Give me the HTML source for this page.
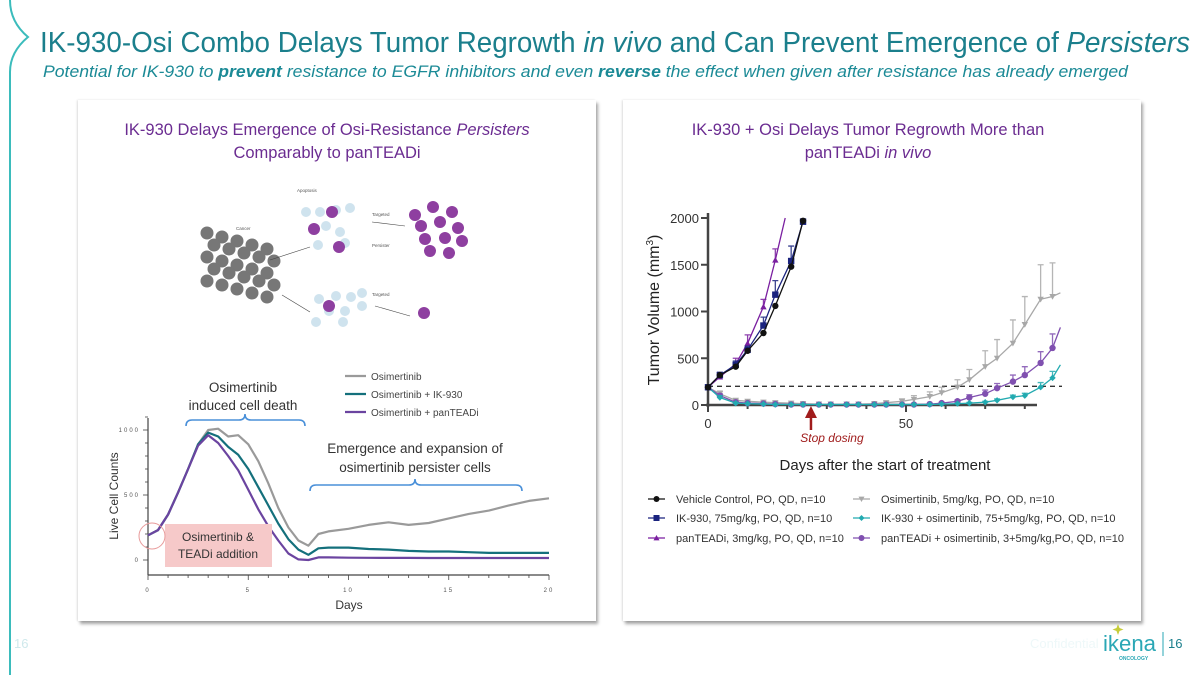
<!DOCTYPE html>
<html><head><meta charset="utf-8">
<style>
html,body{margin:0;padding:0;background:#fff;}
body{width:1200px;height:675px;overflow:hidden;position:relative;font-family:"Liberation Sans",sans-serif;}
.panel{position:absolute;background:#fff;box-shadow:2px 3px 3px rgba(0,0,0,0.35),-1px 0 2px rgba(0,0,0,0.12);}
svg{position:absolute;left:0;top:0;}
</style></head>
<body>
<div class="panel" style="left:78px;top:100px;width:518px;height:521px;"></div>
<div class="panel" style="left:623px;top:100px;width:518px;height:521px;"></div>
<svg id="main" width="1200" height="675" viewBox="0 0 1200 675">
  <path d="M10,0 Q10,22 28,37 Q10,52 10,72 L10,675" fill="none" stroke="#3bbcbc" stroke-width="2"/>
  <text x="40" y="52" font-size="29" fill="#1b7f8c" textLength="1150" lengthAdjust="spacingAndGlyphs">IK-930-Osi Combo Delays Tumor Regrowth <tspan font-style="italic">in vivo</tspan> and Can Prevent Emergence of <tspan font-style="italic">Persisters</tspan></text>
  <text x="43" y="77" font-size="17" fill="#1b8a96" font-style="italic" textLength="1085" lengthAdjust="spacingAndGlyphs">Potential for IK-930 to <tspan font-weight="bold">prevent</tspan> resistance to EGFR inhibitors and even <tspan font-weight="bold">reverse</tspan> the effect when given after resistance has already emerged</text>
  <text x="327" y="135" font-size="16.5" fill="#6b2c91" text-anchor="middle">IK-930 Delays Emergence of Osi-Resistance <tspan font-style="italic">Persisters</tspan></text>
  <text x="327" y="158" font-size="16.5" fill="#6b2c91" text-anchor="middle">Comparably to panTEADi</text>
  <text x="868" y="135" font-size="16.5" fill="#6b2c91" text-anchor="middle">IK-930 + Osi Delays Tumor Regrowth More than</text>
  <text x="868" y="158" font-size="16.5" fill="#6b2c91" text-anchor="middle">panTEADi <tspan font-style="italic">in vivo</tspan></text>
  <g id="diagram"></g>
  <g id="left"></g>
  <g id="right"></g>
  <text x="14" y="648" font-size="13" fill="#cfe9ec">16</text>
  <text x="1030" y="648" font-size="13" fill="#eef8f9">Confidential</text>
  <text x="1103" y="651" font-size="22" fill="#2aa7b5" textLength="53" lengthAdjust="spacingAndGlyphs">ikena</text>
  <path d="M1118,624 l1.5,4 4,1.5 -4,1.5 -1.5,4 -1.5,-4 -4,-1.5 4,-1.5z" fill="#c6cc3a"/>
  <text x="1119" y="660" font-size="5" fill="#2aa7b5" font-weight="bold">ONCOLOGY</text>
  <line x1="1163" y1="632" x2="1163" y2="656" stroke="#2aa7b5" stroke-width="1"/>
  <text x="1168" y="648" font-size="13" fill="#1b7f8c">16</text>
</svg>
<script>
// ===== Left chart data (Live Cell Counts) =====
const leftDays = [0,0.5,1,1.5,2,2.5,3,3.5,4,4.5,5,5.5,6,6.5,7,7.5,8,8.5,9,10,11,12,13,14,15,16,17,18,19,20];
const osiCounts = [190,230,350,520,700,890,1000,1010,950,960,890,760,590,400,250,150,110,200,220,240,270,290,270,285,320,355,380,420,455,475];
const ikCounts = [190,230,350,520,700,890,980,950,870,810,700,560,420,280,160,80,40,90,95,95,85,80,70,65,65,60,55,55,55,55];
const panCounts = [190,230,350,520,700,880,960,900,800,690,540,390,260,150,50,5,0,20,20,18,17,16,16,15,15,15,15,15,15,15];
const leftYTicks = ["0","500","1000"];
const leftYTickVals = [0,500,1000];
const leftXTicks = [0,5,10,15,20];

// ===== Right chart data (Tumor Volume) =====
const rDaysA = [0,3,7,10,14,17,21,24];
const vehicleVol = [190,320,410,580,770,1060,1480,1970];
const ik930Vol = [190,320,430,590,850,1180,1540,1960];
const ik930Err = [10,30,40,40,90,150,160,30];
const panDays = [0,3,7,10,14,17,19.5];
const panVol = [190,300,440,660,1050,1550,2000];
const panErr = [10,30,60,90,80,120,0];
const rDaysB = [0,3,7,10,14,17,21,24,28,31,35,38,42,45,49,52,56,59,63,66,70,73,77,80,84,87,89];
const osiVol = [190,120,50,40,30,25,20,15,10,10,10,10,15,25,40,60,90,130,190,270,410,500,660,860,1130,1160,1200];
const osiErr = [10,30,10,10,10,10,8,8,5,5,5,5,8,15,25,40,50,60,80,110,170,200,250,300,370,360,0];
const ikOsiVol = [190,80,20,15,10,5,5,5,5,5,5,5,5,5,5,5,5,10,15,20,30,50,85,100,190,290,430];
const ikOsiErr = [10,20,8,5,5,3,3,3,3,3,3,3,3,3,3,3,3,5,5,8,10,15,20,25,50,70,0];
const panOsiVol = [190,100,30,20,15,10,5,5,5,5,5,5,5,5,5,5,10,20,40,80,120,180,250,320,450,610,830];
const panOsiErr = [10,20,8,5,5,3,3,3,3,3,3,3,3,3,3,3,5,8,15,30,40,50,70,90,120,150,0];
const rYTicks = [0,500,1000,1500,2000];
const rXTicks = [0,50];
const thresholdVol = 200;
const stopDay = 26;

const NS="http://www.w3.org/2000/svg";
function mk(parent,tag,attrs,text){const e=document.createElementNS(NS,tag);for(const k in attrs)e.setAttribute(k,attrs[k]);if(text!==undefined)e.textContent=text;parent.appendChild(e);return e;}

// ---- diagram ----
(function(){
  const g=document.getElementById('diagram');
  const cells=[];
  for(let r=0;r<5;r++)for(let c=0;c<5;c++){cells.push([207+c*15+(r%2)*7,241+r*12+c*4-8]);}
  cells.forEach(p=>{const e=mk(g,'circle',{cx:p[0],cy:p[1],r:6.5,fill:'#777'});
  
  });
  const pp=[[415,215],[433,207],[452,212],[421,226],[440,222],[458,228],[425,239],[445,238],[462,241],[430,251],[449,253]];
  pp.forEach(p=>{const e=mk(g,'circle',{cx:p[0],cy:p[1],r:6,fill:'#8e3fa0'});
  
  });
  const ap=[[306,212],[320,212],[336,210],[350,208],[326,226],[340,232],[318,245],[345,243],[319,299],[336,296],[351,297],[362,293],[329,311],[345,311],[362,306],[316,322],[343,322]];
  ap.forEach(p=>{const e=mk(g,'circle',{cx:p[0],cy:p[1],r:5,fill:'#cfe3ee'});
  
  });
  [[332,212],[314,229],[339,247],[329,306],[424,313]].forEach(p=>{const e=mk(g,'circle',{cx:p[0],cy:p[1],r:6,fill:'#8e3fa0'});
  
  });
  [[270,260,310,247],[372,222,405,226],[282,295,310,312],[375,306,410,316]].forEach(a=>{const e=mk(g,'line',{x1:a[0],y1:a[1],x2:a[2],y2:a[3],stroke:'#444','stroke-width':0.6});
  
  });
  [['Apoptosis',297,192],['Cancer',236,230],['Targeted',372,216],['Persister',372,247],['Targeted',372,296]].forEach(t=>{const e=mk(g,'text',{x:t[1],y:t[2],'font-size':4.5,fill:'#555'},t[0]);
  
  });
})();

// ---- left chart ----
(function(){
  const g=document.getElementById('left');
  const X0=148,X1=549,Y0=560,Y1000=430;
  const xs=d=>X0+(X1-X0)*d/20, ys=v=>Y0-(Y0-Y1000)*v/1000;
  let e;
  e=mk(g,'line',{x1:X0,y1:418,x2:X0,y2:575,stroke:'#444','stroke-width':1.2});
  
  
  e=mk(g,'line',{x1:X0,y1:575,x2:X1,y2:575,stroke:'#444','stroke-width':1.2});
  
  
  for(let d=0;d<=20;d++){e=mk(g,'line',{x1:xs(d),y1:575,x2:xs(d),y2:d%5==0?580:578,stroke:'#444','stroke-width':0.8});
  
  }
  for(let v=0;v<=1100;v+=100){e=mk(g,'line',{x1:X0-(v%500==0?5:3),y1:ys(v),x2:X0,y2:ys(v),stroke:'#444','stroke-width':0.8});
  
  }
  leftYTicks.forEach((t,i)=>{e=mk(g,'text',{x:X0-8,y:ys(leftYTickVals[i])+2,'font-size':6,fill:'#555','text-anchor':'end','letter-spacing':2},t);
  
  });
  leftXTicks.forEach(t=>{e=mk(g,'text',{x:xs(t),y:592,'font-size':6,fill:'#555','text-anchor':'middle','letter-spacing':2},String(t));
  
  });
  e=mk(g,'text',{x:349,y:609,'font-size':12,fill:'#333','text-anchor':'middle'},'Days');
  
  
  e=mk(g,'text',{x:0,y:0,'font-size':12,fill:'#333','text-anchor':'middle',transform:'translate(118,496) rotate(-90)'},'Live Cell Counts');
  
  
  const series=[[osiCounts,'#9a9a9a','line-osimertinib'],[ikCounts,'#14707c','line-osi-ik930'],[panCounts,'#6b44a0','line-osi-panteadi']];
  series.forEach(s=>{const d=leftDays.map((x,i)=>(i?'L':'M')+xs(x).toFixed(1)+','+ys(s[0][i]).toFixed(1)).join(' ');
    e=mk(g,'path',{d:d,fill:'none',stroke:s[1],'stroke-width':2.2,'stroke-linejoin':'round'});
    
    });
  [['Osimertinib','#9a9a9a',380],['Osimertinib + IK-930','#14707c',398],['Osimertinib + panTEADi','#6b44a0',416]].forEach(l=>{
    e=mk(g,'line',{x1:345,y1:l[2]-4,x2:366,y2:l[2]-4,stroke:l[1],'stroke-width':2.2});
    
    
    e=mk(g,'text',{x:371,y:l[2],'font-size':10,fill:'#444'},l[0]);
    
    });
  e=mk(g,'text',{x:243,y:392,'font-size':13.5,fill:'#333','text-anchor':'middle'},'Osimertinib');
  
  
  e=mk(g,'text',{x:243,y:410,'font-size':13.5,fill:'#333','text-anchor':'middle'},'induced cell death');
  
  
  e=mk(g,'path',{d:'M186,426 Q186,420 192,420 L239,420 Q245,420 245,414 Q245,420 251,420 L299,420 Q305,420 305,426',fill:'none',stroke:'#4a90d9','stroke-width':1.6});
  
  
  e=mk(g,'text',{x:415,y:453,'font-size':13.5,fill:'#333','text-anchor':'middle'},'Emergence and expansion of');
  
  
  e=mk(g,'text',{x:415,y:472,'font-size':13.5,fill:'#333','text-anchor':'middle'},'osimertinib persister cells');
  
  
  e=mk(g,'path',{d:'M310,491 Q310,485 316,485 L409,485 Q415,485 415,479 Q415,485 421,485 L516,485 Q522,485 522,491',fill:'none',stroke:'#4a90d9','stroke-width':1.6});
  
  
  e=mk(g,'rect',{x:165,y:524,width:107,height:43,fill:'#f6c9c9'});
  
  
  e=mk(g,'text',{x:218,y:541,'font-size':12,fill:'#333','text-anchor':'middle'},'Osimertinib &');
  
  
  e=mk(g,'text',{x:218,y:558,'font-size':12,fill:'#333','text-anchor':'middle'},'TEADi addition');
  
  
  e=mk(g,'circle',{cx:152,cy:536,r:13,fill:'none',stroke:'#e89a9a','stroke-width':1});
  
  
})();

// ---- right chart ----
(function(){
  const g=document.getElementById('right');
  const X0=708,X50=906,Y0=405,Y2000=218;
  const xs=d=>X0+(X50-X0)*d/50, ys=v=>Y0-(Y0-Y2000)*v/2000;
  let e;
  e=mk(g,'line',{x1:X0,y1:213,x2:X0,y2:407,stroke:'#444','stroke-width':2.5});
  
  
  e=mk(g,'line',{x1:X0-2,y1:Y0,x2:1037,y2:Y0,stroke:'#444','stroke-width':2.5});
  
  
  for(let d=0;d<=80;d+=10){e=mk(g,'line',{x1:xs(d),y1:Y0,x2:xs(d),y2:Y0+(d%50==0?7:4),stroke:'#444','stroke-width':2});
  
  }
  rYTicks.forEach(v=>{e=mk(g,'line',{x1:X0-7,y1:ys(v),x2:X0,y2:ys(v),stroke:'#444','stroke-width':2});
  
  
  e=mk(g,'text',{x:X0-9,y:ys(v)+5,'font-size':13,fill:'#333','text-anchor':'end'},String(v));
  
  });
  rXTicks.forEach(t=>{e=mk(g,'text',{x:xs(t),y:428,'font-size':13,fill:'#333','text-anchor':'middle'},String(t));
  
  });
  e=mk(g,'text',{x:0,y:0,'font-size':16,fill:'#222','text-anchor':'middle',transform:'translate(659,310) rotate(-90)'},'Tumor Volume (mm');
  
  
  mk(e,'tspan',{dy:-6,'font-size':10},'3');
  mk(e,'tspan',{dy:6},')');
  e=mk(g,'text',{x:885,y:470,'font-size':15,fill:'#222','text-anchor':'middle'},'Days after the start of treatment');
  
  
  e=mk(g,'line',{x1:X0,y1:ys(thresholdVol),x2:1062,y2:ys(thresholdVol),stroke:'#333','stroke-width':1.3,'stroke-dasharray':'5,4'});
  
  
  e=mk(g,'line',{x1:xs(stopDay),y1:430,x2:xs(stopDay),y2:416,stroke:'#a01c1c','stroke-width':2.5});
  
  
  e=mk(g,'path',{d:`M${xs(stopDay)-6},418 L${xs(stopDay)},406 L${xs(stopDay)+6},418z`,fill:'#a01c1c'});
  
  
  e=mk(g,'text',{x:xs(stopDay)+21,y:442,'font-size':12,fill:'#a01c1c','font-style':'italic','text-anchor':'middle'},'Stop dosing');
  
  
  function marker(x,y,shape,col,r){
    if(shape==='circle')return mk(g,'circle',{cx:x,cy:y,r:r,fill:col});
    if(shape==='square')return mk(g,'rect',{x:x-r,y:y-r,width:2*r,height:2*r,fill:col});
    if(shape==='tri')return mk(g,'path',{d:`M${x},${y-r} L${x+r},${y+r*0.8} L${x-r},${y+r*0.8}z`,fill:col});
    if(shape==='tridown')return mk(g,'path',{d:`M${x},${y+r} L${x+r},${y-r*0.8} L${x-r},${y-r*0.8}z`,fill:col});
    if(shape==='diamond')return mk(g,'path',{d:`M${x},${y-r} L${x+r},${y} L${x},${y+r} L${x-r},${y}z`,fill:col});
  }
  const series=[
    [rDaysB,osiVol,osiErr,'#a8a8a8','tridown','series-osimertinib',true],
    [rDaysB,panOsiVol,panOsiErr,'#8050b0','circle','series-panteadi-osi',true],
    [rDaysB,ikOsiVol,ikOsiErr,'#22aab0','diamond','series-ik930-osi',true],
    [panDays,panVol,panErr,'#7a1fa0','tri','series-panteadi',true],
    [rDaysA,ik930Vol,ik930Err,'#1a237e','square','series-ik930',false],
    [rDaysA,vehicleVol,null,'#111','circle','series-vehicle',false]];
  series.forEach(s=>{
    const [dx,vy,er,col,shape,name,skipLast]=s;
    if(er)dx.forEach((d,i)=>{if(er[i]>0){const x=xs(d),y1=ys(vy[i]),y2=ys(vy[i]+er[i]);
      e=mk(g,'path',{d:`M${x},${y1} L${x},${y2} M${x-3},${y2} L${x+3},${y2}`,stroke:col,'stroke-width':1.3,fill:'none',opacity:0.85});
      
      }});
    const d=dx.map((x,i)=>(i?'L':'M')+xs(x).toFixed(1)+','+ys(vy[i]).toFixed(1)).join(' ');
    e=mk(g,'path',{d:d,fill:'none',stroke:col,'stroke-width':1.3});
    
    
    dx.forEach((x,i)=>{if(skipLast&&i===dx.length-1)return;e=marker(xs(x),ys(vy[i]),shape,col,3.2);
      
      });
  });
  const leg=[['Vehicle Control, PO, QD, n=10','#111','circle',648,499],['IK-930, 75mg/kg, PO, QD, n=10','#1a237e','square',648,518],['panTEADi, 3mg/kg, PO, QD, n=10','#7a1fa0','tri',648,538],
    ['Osimertinib, 5mg/kg, PO, QD, n=10','#a8a8a8','tridown',853,499],['IK-930 + osimertinib, 75+5mg/kg, PO, QD, n=10','#22aab0','diamond',853,518],['panTEADi + osimertinib, 3+5mg/kg,PO, QD, n=10','#8050b0','circle',853,538]];
  leg.forEach(l=>{
    e=mk(g,'line',{x1:l[3],y1:l[4],x2:l[3]+17,y2:l[4],stroke:l[1],'stroke-width':1.3});
    
    
    e=marker(l[3]+8.5,l[4],l[2],l[1],3);
    
    
    e=mk(g,'text',{x:l[3]+28,y:l[4]+4,'font-size':11,fill:'#333'},l[0]);
    
    });
})();
</script>
</body></html>
